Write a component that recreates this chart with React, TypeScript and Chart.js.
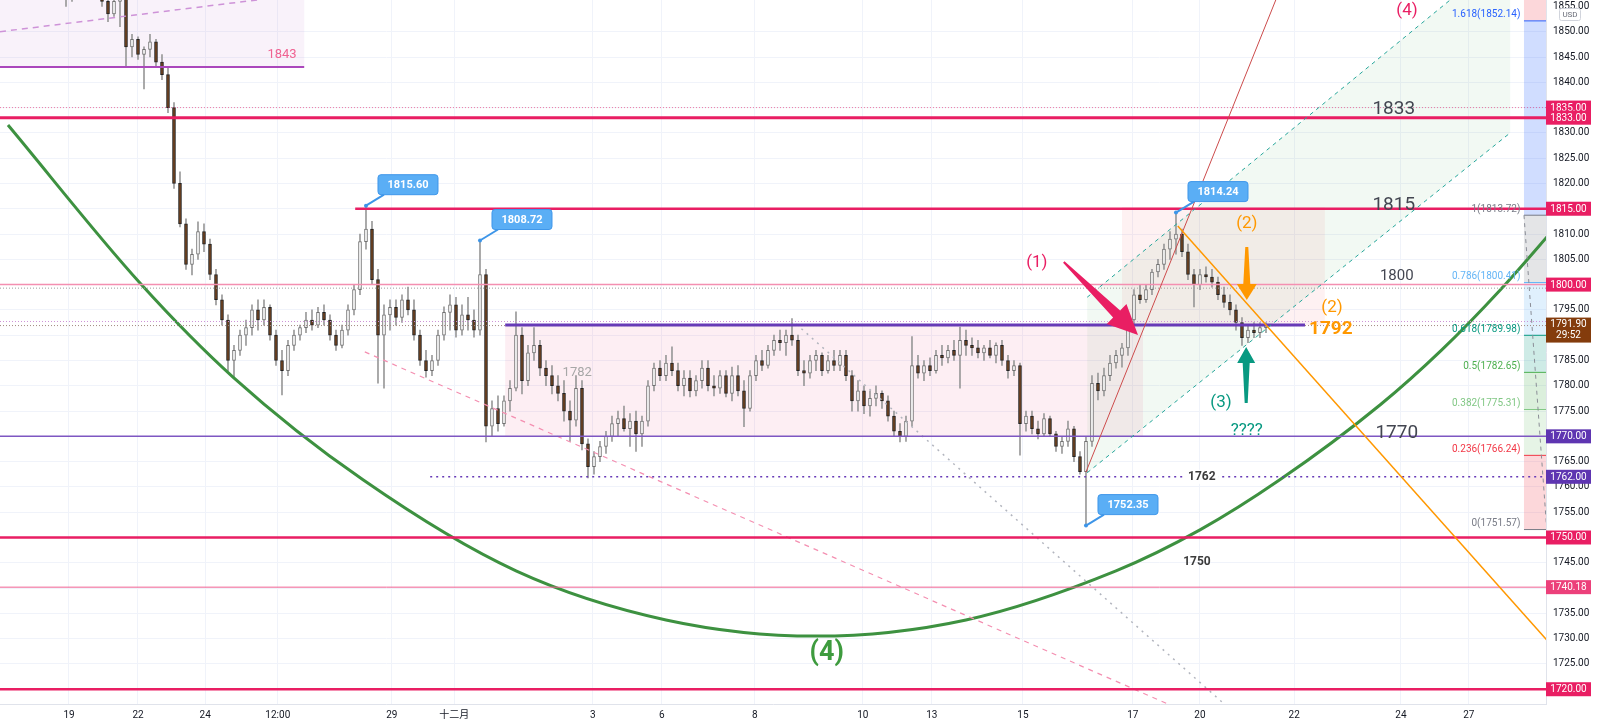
import React, { useEffect, useRef } from "react";
import { Chart, registerables } from "chart.js";

Chart.register(...registerables);

const FONT = "Roboto, 'Noto Sans CJK SC', sans-serif";

// ---- axis ranges (price / candle-slot units) ----
const Y_MIN = 1717.08;
const Y_MAX = 1856.27;
const X_MIN = 0;
const X_MAX = 257.67;

// ---- candles: [open, high, low, close], first candle at slot FIRST_INDEX ----
const FIRST_INDEX = 11;
const ohlc: number[][] = [
  [1858, 1859, 1855, 1857], [1857, 1860, 1856, 1858], [1858, 1860, 1857, 1859], [1859, 1861, 1857, 1858],
  [1858, 1860, 1857, 1859], [1859, 1860, 1857, 1858], [1858, 1859, 1855, 1856], [1856, 1857, 1852, 1853.5],
  [1853.5, 1856.5, 1853, 1856], [1856, 1858, 1851, 1857], [1857, 1858, 1843, 1847], [1847, 1849.5, 1845, 1848.5],
  [1848.5, 1849, 1844.5, 1845.5], [1845.5, 1847, 1838.7, 1846.5], [1846.5, 1849.5, 1845, 1848], [1848, 1848.5, 1843, 1844],
  [1844, 1845.5, 1840.5, 1841.5], [1841.5, 1843, 1834, 1835], [1835, 1836, 1819, 1820], [1820, 1822.3, 1811.4, 1812],
  [1812, 1813, 1803, 1804], [1804, 1807, 1801.9, 1806], [1806, 1812.4, 1805, 1810.5], [1810.5, 1812, 1806.5, 1808],
  [1808, 1809, 1801, 1802], [1802, 1803, 1796, 1797], [1797, 1798, 1792, 1793], [1793, 1794, 1783, 1785],
  [1785, 1788, 1781.5, 1787], [1787, 1791, 1786, 1790], [1790, 1793, 1788, 1791.5], [1791.5, 1796, 1790, 1795],
  [1795, 1797, 1791, 1793], [1793, 1797, 1792, 1795.5], [1795.5, 1796, 1789, 1790], [1790, 1791, 1784, 1785],
  [1785, 1787, 1778.2, 1783], [1783, 1789, 1782, 1788], [1788, 1791, 1787, 1790], [1790, 1792, 1789, 1791.5],
  [1791.5, 1794.5, 1790.5, 1793], [1793, 1795, 1791, 1792], [1792, 1795.5, 1791.5, 1794.5], [1794.5, 1796, 1792, 1793],
  [1793, 1794, 1789, 1790], [1790, 1791, 1787, 1788], [1788, 1792, 1787.5, 1791], [1791, 1796, 1790, 1795],
  [1795, 1800, 1794, 1799], [1799, 1810, 1798, 1808.5], [1808.5, 1815.6, 1807, 1811], [1811, 1812.5, 1800, 1801],
  [1801, 1803, 1780.5, 1790], [1790, 1796, 1779.5, 1794], [1794, 1797, 1791, 1795.5], [1795.5, 1797, 1792, 1793.5],
  [1793.5, 1798, 1792.5, 1797], [1797, 1799.5, 1794, 1795], [1795, 1797, 1789, 1790], [1790, 1791, 1784, 1785],
  [1785, 1787, 1781.7, 1783], [1783, 1786, 1782, 1785], [1785, 1791, 1784, 1790], [1790, 1795.6, 1789, 1794.5],
  [1794.5, 1798, 1791, 1796], [1796, 1797.5, 1789.6, 1791], [1791, 1796, 1790, 1794], [1794, 1797.5, 1791, 1793],
  [1793, 1795, 1789.6, 1791], [1791, 1808.72, 1790, 1802], [1802, 1803, 1768.9, 1772], [1772, 1777, 1770, 1775.5],
  [1775.5, 1778, 1771, 1772.5], [1772.5, 1778, 1772, 1777], [1777, 1781, 1775, 1779.5], [1779.5, 1794.6, 1779, 1790],
  [1790, 1791.5, 1778.4, 1781], [1781, 1788, 1780, 1786.5], [1786.5, 1791.5, 1785, 1788], [1788, 1789, 1782, 1783.5],
  [1783.5, 1785, 1780, 1782], [1782, 1784, 1778.4, 1780], [1780, 1782, 1777, 1778.5], [1778.5, 1781, 1773, 1775],
  [1775, 1777, 1769, 1773.2], [1773.2, 1782, 1772, 1779.5], [1779.5, 1781, 1767.3, 1768.5], [1768.5, 1769.5, 1761.8, 1764],
  [1764, 1767, 1762.5, 1766], [1766, 1769, 1765, 1768], [1768, 1771, 1766.6, 1770], [1770, 1774, 1769, 1772.5],
  [1772.5, 1775, 1770, 1773.5], [1773.5, 1776, 1771, 1771.5], [1771.5, 1774.5, 1768, 1773], [1773, 1775, 1767, 1770.5],
  [1770.5, 1774, 1768, 1773], [1773, 1781, 1772, 1780], [1780, 1784.5, 1779, 1783.5], [1783.5, 1785, 1781, 1782],
  [1782, 1786, 1781, 1784.5], [1784.5, 1787.7, 1782, 1783], [1783, 1784.5, 1779, 1780], [1780, 1783, 1778, 1781.5],
  [1781.5, 1783, 1777.8, 1779], [1779, 1782, 1778, 1781], [1781, 1785, 1779.5, 1783.5], [1783.5, 1785, 1779, 1780],
  [1780, 1782, 1778, 1779.5], [1779.5, 1783, 1778.5, 1782], [1782, 1783, 1777.8, 1778.5], [1778.5, 1783.7, 1777, 1782],
  [1782, 1784, 1778, 1779], [1779, 1781, 1771.9, 1775.5], [1775.5, 1783, 1775, 1782], [1782, 1786, 1781, 1785],
  [1785, 1787, 1783, 1784], [1784, 1788, 1783.5, 1787], [1787, 1790, 1786, 1789], [1789, 1791, 1787, 1788.5],
  [1788.5, 1791, 1786, 1790], [1790, 1793.3, 1788, 1789], [1789, 1790, 1782, 1783], [1783, 1785, 1780, 1782.5],
  [1782.5, 1786, 1781.5, 1785], [1785, 1787, 1783, 1786], [1786, 1786.5, 1782, 1783], [1783, 1786, 1782.5, 1785],
  [1785, 1787, 1783, 1784], [1784, 1787, 1783, 1786], [1786, 1787, 1781, 1782], [1782, 1783, 1775, 1777],
  [1777, 1781, 1775, 1779], [1779, 1780, 1774.5, 1776], [1776, 1779, 1774, 1777.5], [1777.5, 1780, 1776, 1778.5],
  [1778.5, 1779, 1775.5, 1777], [1777, 1778, 1773, 1774], [1774, 1775, 1770, 1771], [1771, 1772.5, 1768.9, 1770],
  [1770, 1774, 1769, 1773], [1773, 1789.7, 1772, 1784], [1784, 1786, 1781.5, 1782.5], [1782.5, 1785, 1781, 1784],
  [1784, 1785.5, 1782, 1783], [1783, 1787, 1782.5, 1786], [1786, 1788, 1784, 1785.5], [1785.5, 1788, 1784.5, 1787],
  [1787, 1789, 1785, 1786], [1786, 1791.6, 1779.5, 1789], [1789, 1791, 1786, 1788], [1788, 1789.5, 1786, 1787.5],
  [1787.5, 1789, 1785.5, 1786.5], [1786.5, 1788, 1785, 1787.5], [1787.5, 1789, 1785.5, 1786], [1786, 1788.5, 1784.5, 1788],
  [1788, 1789, 1784, 1785], [1785, 1786, 1781.5, 1783], [1783, 1785, 1782, 1784], [1784, 1784.5, 1766.3, 1772.5],
  [1772.5, 1775, 1771, 1774], [1774, 1775, 1770.5, 1771.5], [1771.5, 1773, 1769.5, 1770.5], [1770.5, 1774.5, 1770, 1773.5],
  [1773.5, 1774, 1770, 1770.5], [1770.5, 1771, 1767, 1768], [1768, 1770, 1766.6, 1769], [1769, 1773, 1768, 1771.5],
  [1771.5, 1772, 1765, 1766], [1766, 1767, 1762.5, 1763], [1763, 1770, 1752.35, 1769], [1769, 1782, 1768, 1780.5],
  [1780.5, 1782.5, 1777.2, 1779], [1779, 1783.5, 1778, 1782], [1782, 1786, 1781, 1784.5], [1784.5, 1787, 1783.5, 1786],
  [1786, 1788.4, 1783.7, 1787.5], [1787.5, 1794, 1786, 1793], [1793, 1799, 1792, 1798], [1798, 1800, 1796.3, 1797],
  [1797, 1800, 1796.5, 1799], [1799, 1803, 1798, 1802.5], [1802.5, 1805, 1801.5, 1804], [1804, 1808, 1803, 1807],
  [1807, 1810.5, 1805, 1809], [1809, 1814.24, 1806, 1810], [1810, 1811, 1805.5, 1806.5], [1806.5, 1808, 1801, 1802],
  [1802, 1803, 1795.6, 1800], [1800, 1803, 1799, 1802], [1802, 1803.5, 1800.5, 1801.5], [1801.5, 1803, 1799.5, 1800.5],
  [1800.5, 1801.5, 1797, 1798], [1798, 1799.5, 1795.5, 1796.5], [1796.5, 1798, 1794, 1795], [1795, 1796, 1791, 1792.5],
  [1792.5, 1793.5, 1788, 1789.5], [1789.5, 1792, 1788.5, 1791], [1791, 1792.5, 1789.5, 1790.5], [1790.5, 1792.5, 1789.5, 1791.5],
  [1791.5, 1792.5, 1790.5, 1791.9],
];

// ---- time axis ----
const xTickPos = [11.5, 23, 34.2, 46.3, 65.3, 75.7, 98.8, 110.3, 125.8, 143.8, 155.3, 170.5, 188.8, 200, 215.7, 233.5, 244.8];
const xTickLabels = ["19", "22", "24", "12:00", "29", "十二月", "3", "6", "8", "10", "13", "15", "17", "20", "22", "24", "27"];

// ---- price axis ----
const yTicks = [1720, 1725, 1730, 1735, 1740, 1745, 1750, 1755, 1760, 1765, 1770, 1775, 1780, 1785, 1790, 1795, 1800, 1805, 1810, 1815, 1820, 1825, 1830, 1835, 1840, 1845, 1850];
const topTick = 1855;

// ---- green arc (4) ----
const arcIdx = [1.33, 23.33, 38.83, 60.5, 86, 111, 136, 161, 186, 200, 213.3, 230, 240.3, 250, 260];
const arcPrice = [1831.55, 1800.32, 1781.73, 1761.4, 1743.4, 1733.7, 1730.5, 1733.7, 1743.4, 1751.5, 1761.4, 1776.2, 1787.1, 1798.9, 1812.4];

// ---- horizontal levels ----
const RED = "#e91e63";
const levelPrices = [1843, 1835, 1833, 1815, 1800, 1799.3, 1792.7, 1792, 1791.9, 1770, 1762, 1750, 1740.18, 1720];

// ---- fib retracement ----
const fibRatios = ["0", "0.236", "0.382", "0.5", "0.618", "0.786", "1", "1.618"];
const fibPrices = [1751.57, 1766.24, 1775.31, 1782.65, 1789.98, 1800.41, 1813.72, 1852.14];
const fibColors = ["#787b86", "#f23645", "#81c784", "#4caf50", "#089981", "#64b5f6", "#787b86", "#2962ff"];
const fibFill = ["rgba(242,54,69,0.2)", "rgba(129,199,132,0.2)", "rgba(76,175,80,0.2)", "rgba(8,153,129,0.2)", "rgba(100,181,246,0.2)", "rgba(120,123,134,0.2)", "rgba(41,98,255,0.22)", "rgba(242,54,69,0.2)"];

// ---- callouts (slot, price) ----
const callouts = [
  { i: 61, p: 1815.6, t: "1815.60" },
  { i: 80, p: 1808.72, t: "1808.72" },
  { i: 196, p: 1814.24, t: "1814.24" },
  { i: 181, p: 1752.35, t: "1752.35" },
];

// ---- axis price tags ----
const tags = [
  { p: 1835, t: "1835.00", c: RED },
  { p: 1833, t: "1833.00", c: RED },
  { p: 1815, t: "1815.00", c: RED },
  { p: 1800, t: "1800.00", c: RED },
  { p: 1770, t: "1770.00", c: "#5e35b1" },
  { p: 1762, t: "1762.00", c: "#5e35b1" },
  { p: 1750, t: "1750.00", c: RED },
  { p: 1740.18, t: "1740.18", c: "#ec407a" },
  { p: 1720, t: "1720.00", c: RED },
];
const lastPrice = 1791.9;
const countdown = "29:52";

function fatArrow(ctx: any, x1: number, y1: number, x2: number, y2: number, color: string, tailW: number, neckW: number, headW: number, headL: number) {
  const dx = x2 - x1, dy = y2 - y1, L = Math.hypot(dx, dy);
  const ux = dx / L, uy = dy / L, nx = -uy, ny = ux;
  const bx = x2 - ux * headL, by = y2 - uy * headL;
  ctx.fillStyle = color;
  ctx.beginPath();
  ctx.moveTo(x1 + nx * tailW / 2, y1 + ny * tailW / 2);
  ctx.lineTo(bx + nx * neckW / 2, by + ny * neckW / 2);
  ctx.lineTo(bx + nx * headW / 2, by + ny * headW / 2);
  ctx.lineTo(x2, y2);
  ctx.lineTo(bx - nx * headW / 2, by - ny * headW / 2);
  ctx.lineTo(bx - nx * neckW / 2, by - ny * neckW / 2);
  ctx.lineTo(x1 - nx * tailW / 2, y1 - ny * tailW / 2);
  ctx.closePath();
  ctx.fill();
}

function seg(ctx: any, x1: number, y1: number, x2: number, y2: number, color: string, w: number, dash: number[] = []) {
  ctx.save();
  ctx.strokeStyle = color;
  ctx.lineWidth = w;
  ctx.setLineDash(dash);
  ctx.beginPath();
  ctx.moveTo(x1, y1);
  ctx.lineTo(x2, y2);
  ctx.stroke();
  ctx.restore();
}

function txt(ctx: any, s: string, x: number, y: number, color: string, size: number, bold = false, align = "center", base = "middle") {
  ctx.save();
  ctx.fillStyle = color;
  ctx.font = `${bold ? "bold " : ""}${size}px ${FONT}`;
  ctx.textAlign = align;
  ctx.textBaseline = base;
  ctx.fillText(s, x, y);
  ctx.restore();
}

const annotPlugin = {
  id: "annots",
  beforeDatasetsDraw(chart: any) {
    const { ctx, chartArea: a, scales } = chart;
    const X = (v: number) => scales.x.getPixelForValue(v);
    const Y = (v: number) => scales.y.getPixelForValue(v);
    ctx.save();
    ctx.beginPath();
    ctx.rect(a.left, a.top, a.right - a.left, a.bottom - a.top);
    ctx.clip();
    ctx.fillStyle = "rgba(206,147,216,0.12)";
    ctx.fillRect(X(0), Y(1860), X(50.7) - X(0), Y(1843) - Y(1860));
    ctx.fillStyle = "rgba(233,30,99,0.075)";
    ctx.fillRect(X(84.2), Y(1792), X(190.5) - X(84.2), Y(1770) - Y(1792));
    ctx.fillStyle = "rgba(242,54,69,0.07)";
    ctx.fillRect(X(187), Y(1815.3), X(220.8) - X(187), Y(1792) - Y(1815.3));
    ctx.fillStyle = "rgba(76,175,80,0.07)";
    ctx.beginPath();
    ctx.moveTo(X(181.2), Y(1797.5));
    ctx.lineTo(X(251.7), Y(1866));
    ctx.lineTo(X(251.7), Y(1830));
    ctx.lineTo(X(181.2), Y(1762.8));
    ctx.closePath();
    ctx.fill();
    const fx1 = X(254), fx2 = a.right;
    for (let k = 0; k < fibPrices.length; k++) {
      const lo = fibPrices[k];
      const hi = k + 1 < fibPrices.length ? fibPrices[k + 1] : Y_MAX + 5;
      ctx.fillStyle = fibFill[k];
      ctx.fillRect(fx1, Y(hi), fx2 - fx1, Y(lo) - Y(hi));
    }
    ctx.restore();
  },
  afterDatasetsDraw(chart: any) {
    const { ctx, chartArea: a, scales } = chart;
    const X = (v: number) => scales.x.getPixelForValue(v);
    const Y = (v: number) => scales.y.getPixelForValue(v);
    ctx.save();
    ctx.beginPath();
    ctx.rect(a.left, a.top, a.right - a.left, a.bottom - a.top);
    ctx.clip();
    const L = a.left, R = a.right;
    const [p1843, p1835, p1833, p1815, p1800, p1799, p1792d, p1792, pLast, p1770, p1762, p1750, p1740, p1720] = levelPrices;

    seg(ctx, X(0), Y(1850), X(45), Y(1856.6), "#ce93d8", 1.5, [6, 5]);
    seg(ctx, X(60.8), Y(1786.7), X(200), Y(1714.3), "#f48fb1", 1.2, [5, 5]);
    seg(ctx, X(132.7), Y(1792.2), X(208.3), Y(1712.6), "#b2b5be", 1.5, [2, 5]);

    seg(ctx, X(0), Y(p1843), X(50.7), Y(p1843), "#ab47bc", 2);
    seg(ctx, L, Y(p1835), R, Y(p1835), "rgba(233,30,99,0.55)", 1, [1, 2]);
    seg(ctx, L, Y(p1833), R, Y(p1833), RED, 3);
    seg(ctx, X(59.2), Y(p1815), R, Y(p1815), RED, 2.5);
    seg(ctx, L, Y(p1800), R, Y(p1800), "#f48fb1", 1.5);
    seg(ctx, L, Y(p1799), R, Y(p1799), "#9e9e9e", 1, [1, 2]);
    seg(ctx, L, Y(p1792d), R, Y(p1792d), "#ce93d8", 1, [1, 2]);
    seg(ctx, L, Y(pLast), R, Y(pLast), "#a1887f", 1, [1, 2]);
    seg(ctx, X(84.2), Y(p1792), X(217.5), Y(p1792), "#673ab7", 3);
    seg(ctx, L, Y(p1770), R, Y(p1770), "#7e57c2", 1.5);
    seg(ctx, X(71.7), Y(p1762), R, Y(p1762), "#673ab7", 1.5, [2, 4]);
    seg(ctx, L, Y(p1750), R, Y(p1750), RED, 2.5);
    seg(ctx, L, Y(p1740), R, Y(p1740), "#f06292", 1);
    seg(ctx, L, Y(p1720), R, Y(p1720), RED, 2.5);

    for (let k = 0; k < fibPrices.length; k++) {
      seg(ctx, X(254), Y(fibPrices[k]), R, Y(fibPrices[k]), fibColors[k], 1);
    }
    seg(ctx, X(254), Y(1813.72), X(257.8), Y(1751.57), "#8a8d96", 1, [4, 4]);

    seg(ctx, X(181.2), Y(1797.5), X(251.7), Y(1866), "#26a69a", 1, [4, 4]);
    seg(ctx, X(181.2), Y(1762.8), X(251.7), Y(1830), "#26a69a", 1, [4, 4]);
    seg(ctx, X(181), Y(1762.96), X(216), Y(1866.2), "#cc4b4b", 1);
    seg(ctx, X(196.3), Y(1811.6), X(260), Y(1726.8), "#ff9800", 1.5);

    for (let k = 0; k < fibPrices.length; k++) {
      txt(ctx, `${fibRatios[k]}(${fibPrices[k].toFixed(2)})`, X(253.4), Y(fibPrices[k]) - 1, fibColors[k], 10, false, "right", "bottom");
    }
    txt(ctx, "1843", X(47), Y(1845.4), "#f06292", 13);
    txt(ctx, "1782", X(96.2), Y(1782.5), "#a7a7a7", 13);
    ctx.fillStyle = "#ffffff";
    ctx.fillRect(X(200.3) - 17, Y(1762) - 7, 34, 14);
    txt(ctx, "1762", X(200.3), Y(1762), "#3c3c3c", 12, true);
    txt(ctx, "1750", X(199.5), Y(1745.2), "#3c3c3c", 12, true);
    txt(ctx, "1833", X(232.3), Y(1834.7), "#434651", 19);
    txt(ctx, "1815", X(232.3), Y(1815.7), "#434651", 19);
    txt(ctx, "1800", X(232.8), Y(1801.6), "#434651", 15);
    txt(ctx, "1770", X(232.8), Y(1770.6), "#434651", 19);

    txt(ctx, "(1)", X(172.8), Y(1804.3), "#e91e63", 17);
    txt(ctx, "(2)", X(207.8), Y(1812), "#ff9800", 17);
    txt(ctx, "(2)", X(222), Y(1795.4), "#ff9800", 17);
    txt(ctx, "1792", X(221.8), Y(1791.2), "#ff9800", 19, true);
    txt(ctx, "(3)", X(203.5), Y(1776.6), "#089981", 17);
    txt(ctx, "????", X(207.8), Y(1771.1), "#089981", 17);
    txt(ctx, "(4)", X(137.8), Y(1727.1), "#3e9b3e", 27, true);
    txt(ctx, "(4)", X(234.5), Y(1854.1), "#e91e63", 17);

    fatArrow(ctx, X(177.3), Y(1804.47), X(189.67), Y(1790.03), "#e91e63", 2, 10, 28, 30);
    fatArrow(ctx, X(207.8), Y(1807.43), X(207.8), Y(1796.95), "#ff9800", 3, 7, 20, 16);
    fatArrow(ctx, X(207.7), Y(1776.59), X(207.7), Y(1787.66), "#089981", 3, 7, 18, 16);

    for (const c of callouts) {
      const px = X(c.i), py = Y(c.p);
      const w = 60, h = 20, bx = px + 12, by = py - 11 - h;
      seg(ctx, px, py, bx + 6, by + h, "#3d95e8", 2);
      ctx.fillStyle = "#3d95e8";
      ctx.beginPath();
      ctx.arc(px, py, 2, 0, Math.PI * 2);
      ctx.fill();
      ctx.fillStyle = "#5aaef5";
      ctx.strokeStyle = "#3f97ea";
      ctx.lineWidth = 1;
      ctx.beginPath();
      ctx.roundRect(bx, by, w, h, 3);
      ctx.fill();
      ctx.stroke();
      txt(ctx, c.t, bx + w / 2, by + h / 2 + 1, "#ffffff", 11, true);
    }
    ctx.restore();
  },
  afterDraw(chart: any) {
    const { ctx, chartArea: a, scales } = chart;
    const Y = (v: number) => scales.y.getPixelForValue(v);
    const x0 = a.right;
    txt(ctx, topTick.toFixed(2), x0 + 7, Y(topTick), "#131722", 10, false, "left", "middle");
    for (const t of tags) {
      const y = Y(t.p);
      ctx.fillStyle = t.c;
      ctx.fillRect(x0, y - 7, 45, 14);
      txt(ctx, t.t, x0 + 22.5, y + 0.5, "#ffffff", 10);
    }
    const yl = Y(lastPrice);
    ctx.fillStyle = "#843c0c";
    ctx.fillRect(x0, yl - 8, 45, 25);
    txt(ctx, lastPrice.toFixed(2), x0 + 22.5, yl - 1, "#ffffff", 10);
    txt(ctx, countdown, x0 + 22.5, yl + 10, "#ffffff", 10);
    ctx.fillStyle = "#ffffff";
    ctx.strokeStyle = "#d1d4dc";
    ctx.lineWidth = 1;
    ctx.beginPath();
    ctx.roundRect(x0 + 13.5, 8.5, 21, 12, 2);
    ctx.fill();
    ctx.stroke();
    txt(ctx, "USD", x0 + 24, 15, "#6a6d78", 8);
  },
};

export default function App() {
  const ref = useRef<HTMLCanvasElement | null>(null);
  useEffect(() => {
    document.body.style.margin = "0";
    const canvas = ref.current;
    if (!canvas) return;
    const wickData = ohlc.map((d, k) => ({ x: FIRST_INDEX + k, y: [d[2], d[1]] }));
    const bodyData = ohlc.map((d, k) => ({ x: FIRST_INDEX + k, y: [d[0], d[3]] }));
    const arcData = arcIdx.map((v, k) => ({ x: v, y: arcPrice[k] }));
    const up = (k: number) => ohlc[k][3] >= ohlc[k][0];
    const chart = new Chart(canvas, {
      type: "bar",
      data: {
        datasets: [
          {
            type: "line",
            data: arcData,
            borderColor: "#3d9140",
            borderWidth: 3,
            pointRadius: 0,
            cubicInterpolationMode: "monotone",
            order: 0,
          } as any,
          {
            type: "bar",
            data: bodyData as any,
            barThickness: 3,
            grouped: false,
            minBarLength: 1,
            borderWidth: 1,
            borderSkipped: false,
            backgroundColor: (c: any) => (up(c.dataIndex) ? "#ffffff" : "#6b3f1d"),
            borderColor: (c: any) => (up(c.dataIndex) ? "#707070" : "#222222"),
            order: 1,
          } as any,
          {
            type: "bar",
            data: wickData as any,
            barThickness: 1,
            grouped: false,
            backgroundColor: "#999999",
            order: 2,
          } as any,
        ],
      },
      options: {
        animation: false,
        responsive: false,
        maintainAspectRatio: false,
        layout: { padding: 0 },
        plugins: { legend: { display: false }, tooltip: { enabled: false } },
        scales: {
          x: {
            type: "linear",
            min: X_MIN,
            max: X_MAX,
            offset: false,
            afterBuildTicks: (s: any) => {
              s.ticks = xTickPos.map((v) => ({ value: v }));
            },
            afterFit: (s: any) => {
              s.height = 19;
              s.paddingLeft = 0;
              s.paddingRight = 0;
            },
            ticks: {
              autoSkip: false,
              maxRotation: 0,
              padding: 5,
              color: "#131722",
              font: { size: 10, family: FONT },
              callback: (_v: any, i: number) => xTickLabels[i],
            },
            grid: { color: "#f0f3fa", drawTicks: false, offset: false },
            border: { color: "#e0e3eb" },
          },
          y: {
            type: "linear",
            position: "right",
            min: Y_MIN,
            max: Y_MAX,
            afterBuildTicks: (s: any) => {
              s.ticks = yTicks.map((v) => ({ value: v }));
            },
            afterFit: (s: any) => {
              s.width = 54;
              s.paddingTop = 0;
              s.paddingBottom = 0;
            },
            ticks: {
              padding: 7,
              color: "#131722",
              font: { size: 10, family: FONT },
              callback: (v: any) => Number(v).toFixed(2),
            },
            grid: { color: "#f0f3fa", drawTicks: false },
            border: { color: "#e0e3eb" },
          },
        },
      } as any,
      plugins: [annotPlugin as any],
    });
    return () => chart.destroy();
  }, []);
  return <canvas ref={ref} width={1600} height={723} style={{ display: "block" }} />;
}
